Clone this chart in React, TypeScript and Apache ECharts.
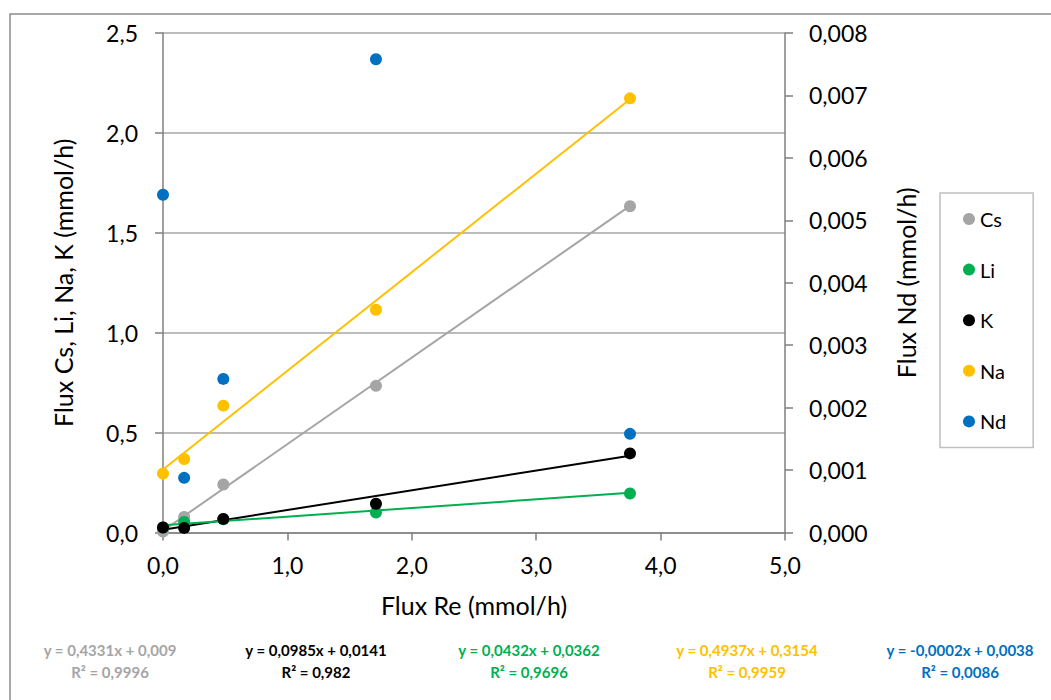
import React, { useEffect, useRef } from "react";
import * as echarts from "echarts";

const xRe = [0, 0.17, 0.485, 1.712, 3.754];
const seriesNames = ["Cs", "Li", "K", "Na", "Nd"];
const cs = [0.005, 0.078, 0.24, 0.734, 1.633];
const li = [0.025, 0.053, 0.066, 0.1, 0.195];
const k = [0.025, 0.023, 0.068, 0.144, 0.396];
const na = [0.295, 0.368, 0.635, 1.115, 2.173];
const nd = [0.00541, 0.000875, 0.00246, 0.00758, 0.00158];
const colors = ["#A5A5A5", "#00B050", "#000000", "#FFC000", "#0070C0"];

// trendline coefficients (from the chart's equations)
const slopes = [0.4331, 0.0432, 0.0985, 0.4937, -0.0002];
const intercepts = [0.009, 0.0362, 0.0141, 0.3154, 0.0038];
const r2 = ["0,9996", "0,9696", "0,982", "0,9959", "0,0086"];
// order of equations at bottom: Cs, K, Li, Na, Nd
const eqOrder = [0, 2, 1, 3, 4];
const eqCenters = [110, 316, 529, 747, 960];

const leftTicks = { min: 0, max: 2.5, interval: 0.5 };
const rightTicks = { min: 0, max: 0.008, interval: 0.001 };
const xTicks = { min: 0, max: 5, interval: 1 };

const FONT = "Lato";

const fmt = (v: number) => String(v).replace(".", ",");

export default function App() {
  const ref = useRef<HTMLDivElement>(null);
  useEffect(() => {
    document.body.style.margin = "0";
    const chart = echarts.init(ref.current!, undefined, { renderer: "svg" });
    const values = [cs, li, k, na, nd];
    const xMin = Math.min(...xRe);
    const xMax = Math.max(...xRe);
    const series: any[] = [];
    // trendlines (not for Nd)
    [0, 3, 2, 1].forEach((i) => {
      series.push({
        name: seriesNames[i] + " trend",
        type: "line",
        yAxisIndex: 0,
        symbol: "none",
        silent: true,
        z: 2,
        lineStyle: { color: colors[i], width: 2 },
        data: [
          [xMin, slopes[i] * xMin + intercepts[i]],
          [xMax, slopes[i] * xMax + intercepts[i]],
        ],
      });
    });
    values.forEach((vals, i) => {
      series.push({
        name: seriesNames[i],
        type: "scatter",
        yAxisIndex: i === 4 ? 1 : 0,
        symbol: "circle",
        symbolSize: 12,
        z: 3,
        itemStyle: { color: colors[i], opacity: 1 },
        data: vals.map((v, j) => [xRe[j], v]),
      });
    });

    const graphics: any[] = [
      {
        type: "rect",
        shape: { x: 10, y: 14, width: 1100, height: 800 },
        style: { fill: "none", stroke: "#8C8C8C", lineWidth: 1.5 },
        silent: true,
      },
    ];
    eqOrder.forEach((si, pos) => {
      const s = slopes[si];
      const b = intercepts[si];
      const eq = `y = ${fmt(s)}x + ${fmt(b)}`;
      graphics.push({
        type: "text",
        x: eqCenters[pos],
        y: 661,
        style: {
          text: eq + "\nR² = " + r2[si],
          fill: colors[si],
          font: `bold 15px ${FONT}`,
          align: "center",
          verticalAlign: "middle",
          lineHeight: 22,
        },
      });
    });

    chart.setOption({
      animation: false,
      textStyle: { fontFamily: FONT },
      grid: { left: 163, right: 266, top: 33, bottom: 167.5, containLabel: false },
      legend: {
        orient: "vertical",
        left: 940,
        top: 193,
        data: seriesNames,
        icon: "circle",
        itemWidth: 12,
        itemHeight: 12,
        itemGap: 30.6,
        padding: [16, 27, 16, 23],
        borderColor: "#BFBFBF",
        borderWidth: 1.5,
        textStyle: { fontSize: 20, color: "#000", fontFamily: FONT, lineHeight: 20 },
      },
      xAxis: {
        type: "value",
        ...xTicks,
        name: "Flux Re (mmol/h)",
        nameLocation: "middle",
        nameGap: 60,
        nameTextStyle: { fontSize: 25, color: "#000", fontFamily: FONT },
        axisLine: { show: true, onZero: false, lineStyle: { color: "#7F7F7F", width: 1.5 } },
        axisTick: { show: true, inside: false, length: 8, lineStyle: { color: "#7F7F7F", width: 1.5 } },
        axisLabel: {
          fontSize: 23,
          color: "#000",
          margin: 21,
          formatter: (v: number) => v.toFixed(1).replace(".", ","),
        },
        splitLine: { show: false },
      },
      yAxis: [
        {
          type: "value",
          ...leftTicks,
          position: "left",
          name: "Flux Cs, Li, Na, K (mmol/h)",
          nameLocation: "middle",
          nameGap: 88,
          nameRotate: 90,
          nameTextStyle: { fontSize: 25, color: "#000", fontFamily: FONT },
          axisLine: { show: true, lineStyle: { color: "#7F7F7F", width: 1.5 } },
          axisTick: { show: true, inside: false, length: 8, lineStyle: { color: "#7F7F7F", width: 1.5 } },
          axisLabel: {
            fontSize: 23,
            color: "#000",
            margin: 25,
            formatter: (v: number) => v.toFixed(1).replace(".", ","),
          },
          splitLine: { show: true, lineStyle: { color: "#A6A6A6", width: 1.5 } },
        },
        {
          type: "value",
          ...rightTicks,
          position: "right",
          name: "Flux Nd (mmol/h)",
          nameLocation: "middle",
          nameGap: 108,
          nameRotate: 90,
          nameTextStyle: { fontSize: 25, color: "#000", fontFamily: FONT },
          axisLine: { show: true, lineStyle: { color: "#7F7F7F", width: 1.5 } },
          axisTick: { show: true, inside: false, length: 8, lineStyle: { color: "#7F7F7F", width: 1.5 } },
          axisLabel: {
            fontSize: 23,
            color: "#000",
            margin: 24,
            formatter: (v: number) => v.toFixed(3).replace(".", ","),
          },
          splitLine: { show: false },
        },
      ],
      graphic: graphics,
      series,
    });
    return () => chart.dispose();
  }, []);
  return <div ref={ref} style={{ width: 1051, height: 700 }} />;
}
